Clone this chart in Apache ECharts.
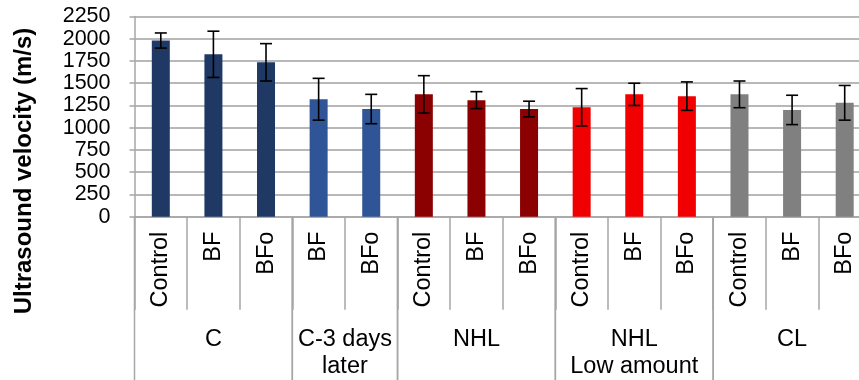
<!DOCTYPE html>
<html>
<head>
<meta charset="utf-8">
<script src="https://cdn.jsdelivr.net/npm/echarts@6/dist/echarts.min.js"></script>
<style>
  html, body { margin: 0; padding: 0; background: #fff; }
  #chart { width: 859px; height: 380px; }
</style>
</head>
<body>
<div id="chart"></div>
<script>
// Treatment within each group (x axis, inner level)
const categories = ['Control', 'BF', 'BFo', 'BF', 'BFo', 'Control', 'BF', 'BFo',
                    'Control', 'BF', 'BFo', 'Control', 'BF', 'BFo'];
// Mean ultrasound velocity (m/s)
const velocity = [1980, 1825, 1735, 1320, 1210, 1375, 1310, 1210,
                  1230, 1375, 1355, 1375, 1200, 1280];
// Standard deviation shown as error bars
const deviation = [85, 260, 210, 235, 165, 210, 95, 88,
                   210, 125, 160, 150, 165, 195];
// Outer level: group name, first category index, number of categories
const groupNames = ['C', 'C-3 days\nlater', 'NHL', 'NHL\nLow amount', 'CL'];
const groupStart = [0, 3, 5, 8, 11];
const groupSize = [3, 2, 3, 3, 3];
const groupColors = ['#203864', '#2F5597', '#8B0000', '#F00000', '#808080'];
// Y axis ticks
const yMin = 0, yMax = 2250, yStep = 250;
const yTitle = 'Ultrasound velocity (m/s)';

const barColors = [];
groupStart.forEach((s, g) => {
  for (let i = 0; i < groupSize[g]; i++) barColors[s + i] = groupColors[g];
});

const FONT = '"Liberation Sans", Arial, sans-serif';
const chart = echarts.init(document.getElementById('chart'), null, { renderer: 'canvas' });

const option = {
  animation: false,
  grid: {
    left: 134.5, top: 16.5, width: 736.5, height: 200.2,
    containLabel: false, outerBoundsMode: 'none'
  },
  graphic: [{
    type: 'text',
    x: 24, y: 171,
    rotation: Math.PI / 2,
    style: {
      text: yTitle,
      fill: '#000',
      font: 'bold 24px ' + FONT,
      align: 'center', verticalAlign: 'middle'
    }
  }],
  xAxis: {
    type: 'category',
    data: categories,
    axisLine: { lineStyle: { color: '#A6A6A6', width: 1.5 } },
    axisTick: { show: true, interval: 0, length: 93, lineStyle: { color: '#A6A6A6', width: 1.5 } },
    axisLabel: {
      interval: 0, rotate: 90, margin: 15,
      color: '#000', fontFamily: FONT, fontSize: 23.5
    },
    splitLine: { show: false }
  },
  yAxis: {
    type: 'value',
    min: yMin, max: yMax, interval: yStep,
    axisLine: { show: true, lineStyle: { color: '#A6A6A6', width: 1.5 } },
    axisTick: { show: true, length: 5, lineStyle: { color: '#A6A6A6', width: 1.5 } },
    axisLabel: {
      margin: 24, color: '#000', fontFamily: FONT, fontSize: 21.5,
      formatter: v => String(v)
    },
    splitLine: { lineStyle: { color: '#A0A0A0', width: 1.5 } }
  },
  series: [
    {
      type: 'bar',
      barWidth: 18,
      data: velocity.map((v, i) => ({ value: v, itemStyle: { color: barColors[i] } })),
      z: 2
    },
    {
      // error bars: mean ± deviation
      type: 'custom',
      z: 3,
      data: velocity.map((v, i) => [i, v - deviation[i], v + deviation[i]]),
      renderItem: function (params, api) {
        const lo = api.coord([api.value(0), api.value(1)]);
        const hi = api.coord([api.value(0), api.value(2)]);
        const cap = 6;
        const style = { stroke: '#000', lineWidth: 1.6 };
        return {
          type: 'group',
          children: [
            { type: 'line', shape: { x1: hi[0], y1: hi[1], x2: lo[0], y2: lo[1] }, style },
            { type: 'line', shape: { x1: hi[0] - cap, y1: hi[1], x2: hi[0] + cap, y2: hi[1] }, style },
            { type: 'line', shape: { x1: lo[0] - cap, y1: lo[1], x2: lo[0] + cap, y2: lo[1] }, style }
          ]
        };
      }
    },
    {
      // outer category level: separators and group names below the axis
      type: 'custom',
      clip: false,
      silent: true,
      z: 1,
      data: groupNames.map((n, g) => [groupStart[g], groupSize[g]]),
      renderItem: function (params, api) {
        const g = params.dataIndex;
        const start = api.value(0), size = api.value(1);
        const band = api.size([1, 0])[0];
        const first = api.coord([start, 0]);
        const left = first[0] - band / 2;
        const right = left + band * size;
        const axisY = first[1];
        const style = { stroke: '#A6A6A6', lineWidth: 1.5 };
        const children = [
          { type: 'line', shape: { x1: left, y1: axisY, x2: left, y2: 380 }, style },
          { type: 'line', shape: { x1: right, y1: axisY, x2: right, y2: 380 }, style },
          {
            type: 'text',
            style: {
              x: (left + right) / 2, y: 326,
              text: groupNames[g],
              fill: '#000', font: '23.5px ' + FONT,
              align: 'center', verticalAlign: 'top', lineHeight: 27
            }
          }
        ];
        return { type: 'group', children };
      }
    }
  ]
};

chart.setOption(option);
</script>
</body>
</html>
